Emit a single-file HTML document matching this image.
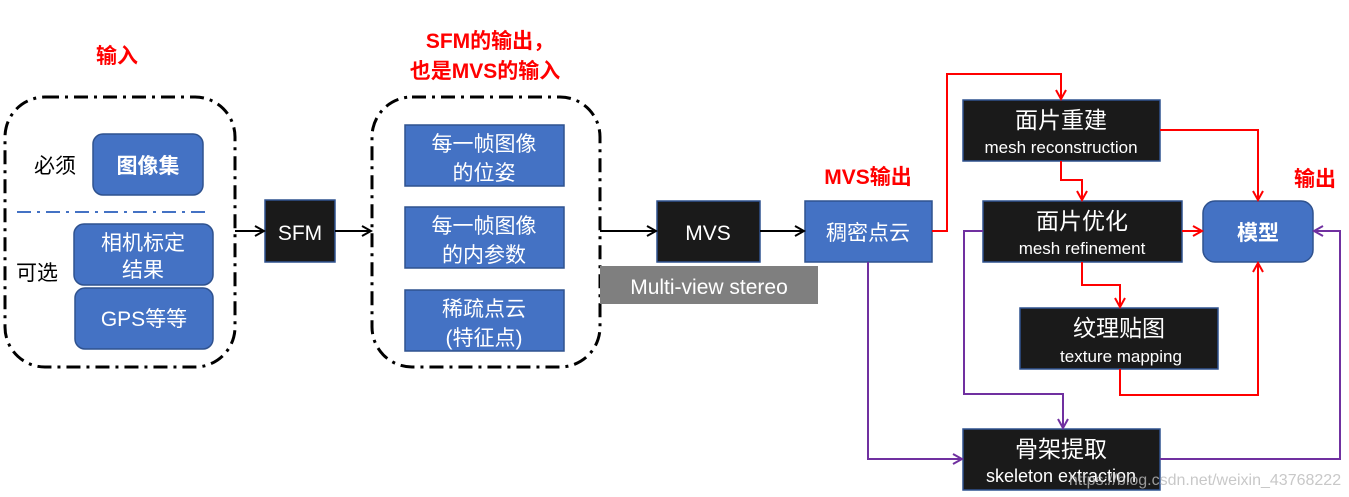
<!DOCTYPE html>
<html><head><meta charset="utf-8"><style>
html,body{margin:0;padding:0;background:#fff;}
svg{display:block;font-family:"Liberation Sans","Noto Sans CJK SC",sans-serif;}
</style></head><body>
<svg width="1349" height="497" viewBox="0 0 1349 497" xmlns="http://www.w3.org/2000/svg">
<defs>
<marker id="ak" markerWidth="12" markerHeight="12" refX="10" refY="6" orient="auto" markerUnits="userSpaceOnUse"><path d="M1,1 L10,6 L1,11" fill="none" stroke="#000" stroke-width="2"/></marker>
<marker id="ar" markerWidth="12" markerHeight="12" refX="10" refY="6" orient="auto" markerUnits="userSpaceOnUse"><path d="M1,1 L10,6 L1,11" fill="none" stroke="#f00" stroke-width="2"/></marker>
<marker id="ap" markerWidth="12" markerHeight="12" refX="10" refY="6" orient="auto" markerUnits="userSpaceOnUse"><path d="M1,1 L10,6 L1,11" fill="none" stroke="#7030A0" stroke-width="2"/></marker>
</defs>
<g font-weight="bold" fill="#f00" font-size="21" text-anchor="middle">
<text x="117" y="63">输入</text>
<text x="490" y="48">SFM的输出，</text>
<text x="485" y="78">也是MVS的输入</text>
<text x="868" y="184">MVS输出</text>
<text x="1315" y="186">输出</text>
</g>
<rect x="5" y="97" width="230" height="270" rx="40" fill="none" stroke="#000" stroke-width="3" stroke-dasharray="14,6,3,6"/>
<rect x="372" y="97" width="228" height="270" rx="40" fill="none" stroke="#000" stroke-width="3" stroke-dasharray="14,6,3,6"/>
<line x1="17" y1="212" x2="208" y2="212" stroke="#4472C4" stroke-width="2" stroke-dasharray="14,6,3,6"/>
<g font-size="21" fill="#000" text-anchor="middle">
<text x="55" y="173">必须</text>
<text x="37" y="280">可选</text>
</g>
<g fill="#4472C4" stroke="#2F528F" stroke-width="1.5">
<rect x="93" y="134" width="110" height="61" rx="10"/>
<rect x="74" y="224" width="139" height="61" rx="10"/>
<rect x="75" y="288" width="138" height="61" rx="10"/>
<rect x="405" y="125" width="159" height="61"/>
<rect x="405" y="207" width="159" height="61"/>
<rect x="405" y="290" width="159" height="61"/>
<rect x="805" y="201" width="127" height="61"/>
<rect x="1203" y="201" width="110" height="61" rx="12"/>
</g>
<g fill="#1a1a1a" stroke="#2F528F" stroke-width="1.5">
<rect x="265" y="200" width="70" height="62"/>
<rect x="657" y="201" width="103" height="61"/>
<rect x="963" y="100" width="197" height="61"/>
<rect x="983" y="201" width="199" height="61"/>
<rect x="1020" y="308" width="198" height="61"/>
<rect x="963" y="429" width="197" height="61"/>
</g>
<rect x="600" y="266" width="218" height="38" fill="#7F7F7F"/>
<g fill="#fff" text-anchor="middle" font-size="21">
<text x="148" y="173" font-weight="bold">图像集</text>
<text x="143" y="250">相机标定</text>
<text x="143" y="277">结果</text>
<text x="144" y="326">GPS等等</text>
<text x="484" y="151">每一帧图像</text>
<text x="484" y="180">的位姿</text>
<text x="484" y="233">每一帧图像</text>
<text x="484" y="262">的内参数</text>
<text x="484" y="316">稀疏点云</text>
<text x="484" y="345">(特征点)</text>
<text x="300" y="240">SFM</text>
<text x="708" y="240">MVS</text>
<text x="709" y="294">Multi-view stereo</text>
<text x="868" y="240">稠密点云</text>
<text x="1258" y="240" font-weight="bold">模型</text>
<text x="1061" y="128" font-size="23">面片重建</text>
<text x="1061" y="153" font-size="17">mesh reconstruction</text>
<text x="1082" y="229" font-size="23">面片优化</text>
<text x="1082" y="254" font-size="17">mesh refinement</text>
<text x="1119" y="336" font-size="23">纹理贴图</text>
<text x="1121" y="362" font-size="17">texture mapping</text>
<text x="1061" y="457" font-size="23">骨架提取</text>
<text x="1061" y="482" font-size="18">skeleton extraction</text>
</g>
<text x="1205" y="485" font-size="16" fill="#bbb" text-anchor="middle" opacity="0.8">https://blog.csdn.net/weixin_43768222</text>
<g fill="none" stroke="#000" stroke-width="2">
<line x1="235" y1="231" x2="264" y2="231" marker-end="url(#ak)"/>
<line x1="335" y1="231" x2="371" y2="231" marker-end="url(#ak)"/>
<line x1="600" y1="231" x2="656" y2="231" marker-end="url(#ak)"/>
<line x1="760" y1="231" x2="804" y2="231" marker-end="url(#ak)"/>
</g>
<g fill="none" stroke="#f00" stroke-width="2">
<polyline points="932,231 947,231 947,74 1061,74 1061,99" marker-end="url(#ar)"/>
<polyline points="1160,130 1258,130 1258,200" marker-end="url(#ar)"/>
<polyline points="1061,161 1061,180 1082,180 1082,200" marker-end="url(#ar)"/>
<polyline points="1182,231 1202,231" marker-end="url(#ar)"/>
<polyline points="1082,262 1082,285 1120,285 1120,307" marker-end="url(#ar)"/>
<polyline points="1120,369 1120,395 1258,395 1258,263" marker-end="url(#ar)"/>
</g>
<g fill="none" stroke="#7030A0" stroke-width="2">
<polyline points="868,262 868,459 962,459" marker-end="url(#ap)"/>
<polyline points="983,231 964,231 964,394 1063,394 1063,428" marker-end="url(#ap)"/>
<polyline points="1160,459 1340,459 1340,231 1314,231" marker-end="url(#ap)"/>
</g>
</svg>
</body></html>
